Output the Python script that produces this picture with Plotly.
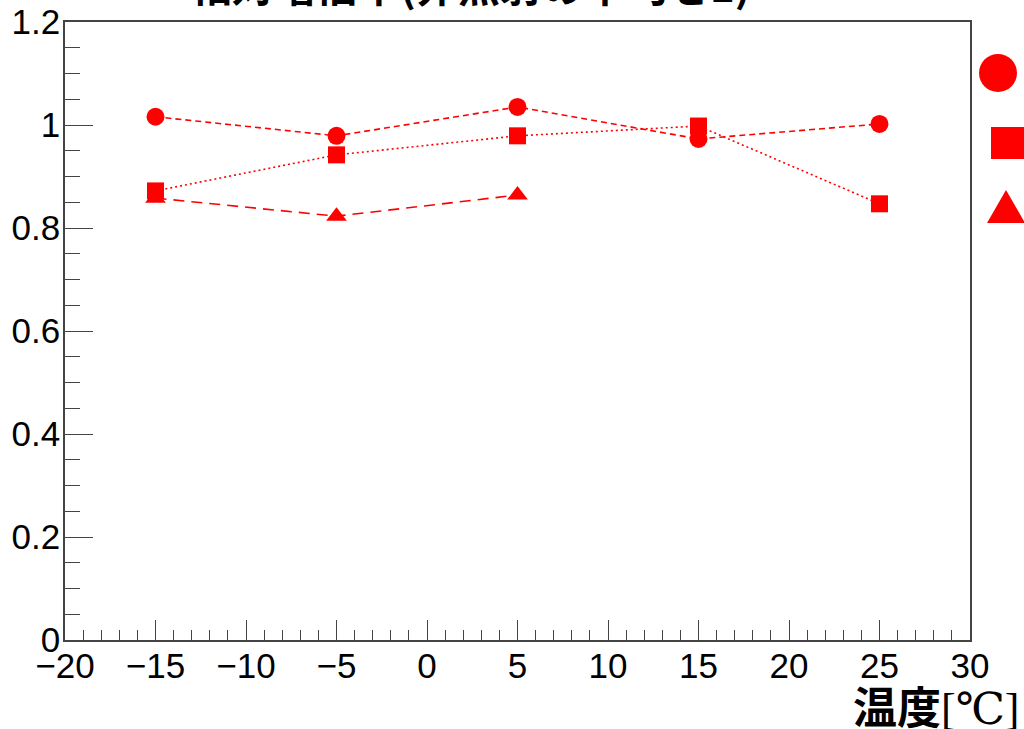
import plotly.graph_objects as go

# Data
temps = [-15, -5, 5, 15, 25]
circle_vals = [1.016, 0.979, 1.035, 0.973, 1.002]
square_vals = [0.872, 0.942, 0.979, 0.998, 0.847]
tri_temps = [-15, -5, 5]
tri_vals = [0.858, 0.823, 0.864]

title_text = "相対増倍率(非照射の平均を1)"
xlabel_main = "温度"
xlabel_unit = "[℃]"

RED = "#ff0000"
W, H = 1024, 729
L, R, T, B = 65, 54, 22, 89
PW, PH = W - L - R, H - T - B

def px(xpix):
    return (xpix - L) / PW

def py(ypix):
    return (H - B - ypix) / PH

fig = go.Figure()
fig.add_trace(go.Scatter(x=temps, y=circle_vals, mode="lines+markers", name="circle",
                         line=dict(color=RED, width=1.6, dash="6px,4px"),
                         marker=dict(symbol="circle", size=18, color=RED)))
fig.add_trace(go.Scatter(x=temps, y=square_vals, mode="lines+markers", name="square",
                         line=dict(color=RED, width=1.6, dash="2px,3px"),
                         marker=dict(symbol="square", size=17, color=RED)))
fig.add_trace(go.Scatter(x=tri_temps, y=tri_vals, mode="lines+markers", name="triangle",
                         line=dict(color=RED, width=1.6, dash="11px,7px"),
                         marker=dict(symbol="triangle-up", size=18, color=RED)))

axis_common = dict(showline=True, linecolor="#444", linewidth=1.5, mirror=True,
                   ticks="inside", tickcolor="#444", showgrid=False, zeroline=False,
                   automargin=False,
                   tickfont=dict(family="Liberation Sans, Arial", size=35, color="#000"))

fig.update_xaxes(range=[-20, 30], dtick=5, tick0=-20, ticklen=20, tickwidth=1.2,
                 ticklabelstandoff=-6,
                 minor=dict(ticks="inside", dtick=1, ticklen=10, tickcolor="#444", tickwidth=1.2),
                 **axis_common)
fig.update_yaxes(range=[0, 1.2], dtick=0.2, tick0=0, ticklen=28, tickwidth=1.2,
                 ticklabelstandoff=-4,
                 minor=dict(ticks="inside", dtick=0.05, ticklen=15, tickcolor="#444", tickwidth=1.2),
                 **axis_common)

# Legend keys (legend text lies beyond the canvas edge)
shapes = [
    dict(type="circle", xref="paper", yref="paper", x0=px(979), x1=px(1017), y0=py(92), y1=py(54),
         fillcolor=RED, line=dict(width=0)),
    dict(type="rect", xref="paper", yref="paper", x0=px(991), x1=px(1024), y0=py(159), y1=py(127),
         fillcolor=RED, line=dict(width=0)),
    dict(type="path", xref="paper", yref="paper",
         path=f"M {px(987)} {py(223)} L {px(1025)} {py(223)} L {px(1006)} {py(190)} Z",
         fillcolor=RED, line=dict(width=0)),
]

xlabel_html = (f"<b>{xlabel_main}</b>"
               f"<span style=\"font-family:'Liberation Serif','DejaVu Serif',serif\">{xlabel_unit}</span>")

annotations = [
    dict(text=f"<b>{title_text}</b>", xref="paper", yref="paper", x=px(470), y=py(-17),
         xanchor="center", yanchor="middle", showarrow=False,
         font=dict(family="Noto Sans CJK JP", size=42, color="#000")),
    dict(text=xlabel_html, xref="paper", yref="paper", x=px(1022), y=py(705),
         xanchor="right", yanchor="middle", showarrow=False,
         font=dict(family="Noto Sans CJK JP", size=44, color="#000")),
]

fig.update_layout(width=W, height=H, margin=dict(l=L, r=R, t=T, b=B, autoexpand=False),
                  plot_bgcolor="white", paper_bgcolor="white", showlegend=False,
                  shapes=shapes, annotations=annotations)

fig.write_html("out.html", config={"displayModeBar": False},
               post_script="document.body.style.margin='0';document.body.style.overflow='hidden';")
